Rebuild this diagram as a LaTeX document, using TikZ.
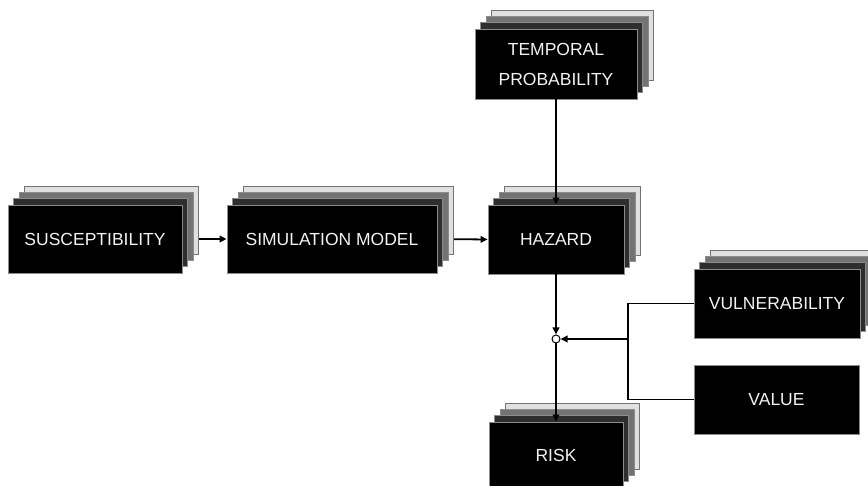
\documentclass[tikz,border=0pt]{standalone}
\usepackage{fontspec}
\setmainfont{Liberation Sans}
\usetikzlibrary{shadows,backgrounds,arrows.meta}
\begin{document}
\begin{tikzpicture}[x=1pt,y=-1pt,
  frontbox/.style={fill=black, draw=black!45, line width=0.8pt, text=black!5,
    font=\fontsize{17.5}{30}\selectfont, align=center, inner sep=0pt},
  stackbox/.style={frontbox,
    general shadow={shadow xshift=16.5pt, shadow yshift=19pt, fill=black!12, draw=black!55, line width=0.8pt},
    general shadow={shadow xshift=11pt, shadow yshift=12.5pt, fill=black!55, draw=black!45, line width=0.8pt},
    general shadow={shadow xshift=5.5pt, shadow yshift=6.5pt, fill=black!82, draw=black!45, line width=0.8pt}},
  conn/.style={line width=1.8pt, draw=black},
  arr/.style={conn, -{Triangle[length=7pt,width=6.5pt]}}]
\useasboundingbox (0,0) rectangle (868,486);
\node[stackbox, minimum width=174pt, minimum height=68pt] (susc) at (95,239) {SUSCEPTIBILITY};
\node[stackbox, minimum width=210pt, minimum height=68pt] (sim) at (332,239) {SIMULATION MODEL};
\node[stackbox, minimum width=136pt, minimum height=69pt] (haz) at (556,239.5) {HAZARD};
\node[stackbox, minimum width=162pt, minimum height=70pt] (temp) at (556,64) {TEMPORAL\\PROBABILITY};
\node[stackbox, minimum width=166pt, minimum height=69pt] (vuln) at (777,303.5) {VULNERABILITY};
\node[frontbox, minimum width=165pt, minimum height=69pt] (val) at (776.5,399.5) {VALUE};
\node[stackbox, minimum width=134pt, minimum height=66pt] (risk) at (556,455) {RISK};
\node[circle, draw=black, fill=white, line width=1pt, inner sep=0pt, minimum size=8pt] (j) at (556,339) {};
\coordinate (bx) at (628,339);
\begin{pgfonlayer}{background}
\draw[arr] (susc.east) -- (sim.west);
\draw[arr] (sim.east) -- (haz.west);
\end{pgfonlayer}
\draw[arr] (temp.south) -- (haz.north);
\draw[arr] (haz.south) -- (j.north);
\draw[arr] (j.south) -- (risk.north);
\draw[conn] (vuln.west) -| (bx) |- (val.west);
\draw[arr] (bx) -- (j.east);
\end{tikzpicture}
\end{document}
